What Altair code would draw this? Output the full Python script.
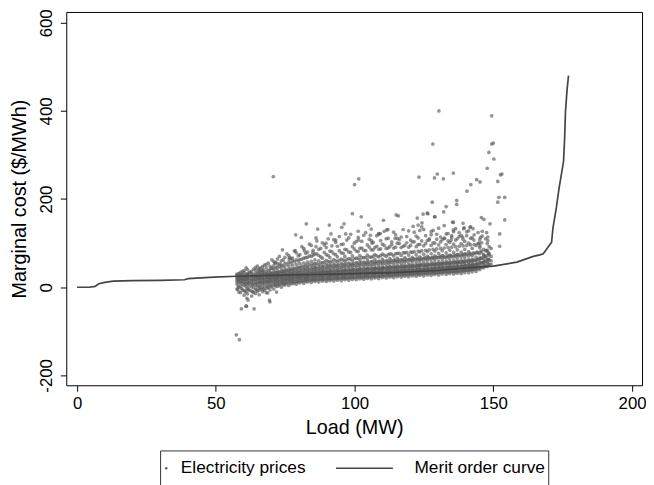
import altair as alt
import pandas as pd

SERIES = ["Electricity prices", "Merit order curve"]
x_ticks = [0, 50, 100, 150, 200]
y_ticks = [-200, 0, 200, 400, 600]

# Merit order curve (load MW, marginal cost $/MWh)
merit_load = [0, 4.3, 6.5, 7.8, 10, 13, 20, 30, 38.7, 40, 49.3, 57.6, 70, 85, 100,
              114.6, 130, 144, 150, 158.5, 164.4, 166.8, 168, 171, 171.5, 172.7,
              173.7, 174.5, 175.3, 175.7, 176, 176.6, 177.1]
merit_cost = [0, 0, 2, 8, 11, 14, 15, 15.5, 17, 19.5, 23, 25, 27, 29, 31,
              33, 38, 45.6, 48, 57, 70, 73.5, 76, 102, 135, 180,
              225, 255, 285, 338, 398, 450, 480]

# Dense cloud of observed prices, read column by column (load, prices)
cloud_load = [57.6, 58.9, 60.2, 61.4, 62.9, 64.3, 65.6, 66.8, 68.2, 69.5, 70.9, 72.2,
              73.6, 74.9, 76.3, 77.6, 79.0, 80.3, 81.7, 83.0, 84.4, 85.7, 87.1, 88.4,
              89.8, 91.1, 92.5, 93.8, 95.2, 96.5, 97.9, 99.2, 100.6, 101.9, 103.3, 104.6,
              106.0, 107.3, 108.7, 110.0, 111.4, 112.7, 114.1, 115.4, 116.8, 118.1, 119.5,
              120.8, 122.2, 123.5, 124.9, 126.2, 127.6, 128.9, 130.3, 131.6, 133.0, 134.3,
              135.7, 137.0, 138.4, 139.7, 141.1, 142.4, 143.8, 145.1, 146.5, 147.8, 149.2]
cloud_prices = [
    [-4, 8, 14, 19, 23, 27, 30],
    [-12, 2, 10, 16, 21, 25, 29, 34],
    [-18, -8, 4, 12, 18, 23, 27, 33, 38],
    [-15, -3, 6, 13, 19, 24, 28, 31, 40],
    [-20, -9, 1, 9, 15, 21, 26, 30, 36],
    [-14, -4, 5, 12, 18, 23, 27, 32, 39, 45],
    [-17, -6, 3, 11, 17, 22, 26, 30, 35, 42],
    [-10, 0, 8, 14, 20, 24, 28, 33, 38, 47],
    [-12, -2, 7, 13, 19, 23, 27, 31, 36, 44, 52],
    [-6, 4, 11, 17, 21, 25, 29, 34, 40, 48],
    [-4, 6, 12, 18, 22, 26, 30, 35, 41, 49, 58],
    [2, 9, 15, 20, 24, 28, 32, 38, 45, 53, 64],
    [0, 8, 14, 19, 23, 27, 31, 36, 43, 50, 60],
    [5, 11, 17, 21, 25, 29, 33, 39, 46, 55, 68],
    [4, 12, 18, 22, 26, 30, 35, 41, 48, 57, 72],
    [8, 14, 19, 23, 27, 31, 36, 42, 50, 60, 66],
    [7, 13, 19, 24, 28, 32, 37, 44, 52, 62, 78],
    [10, 16, 21, 25, 29, 33, 38, 45, 54, 63, 74],
    [9, 15, 20, 25, 29, 34, 40, 47, 55, 66, 88],
    [12, 18, 22, 26, 30, 35, 41, 48, 57, 68, 80],
    [11, 17, 22, 27, 31, 36, 42, 50, 59, 70, 95],
    [13, 19, 23, 27, 31, 35, 40, 46, 53, 62, 75],
    [12, 18, 23, 28, 32, 37, 43, 51, 60, 72, 86],
    [14, 20, 24, 28, 32, 36, 41, 48, 56, 66, 101],
    [13, 19, 24, 29, 33, 38, 44, 52, 61, 74, 90],
    [15, 21, 25, 29, 33, 37, 42, 49, 57, 67, 82],
    [14, 20, 25, 30, 34, 39, 45, 53, 63, 76, 108],
    [16, 22, 26, 30, 34, 38, 43, 50, 58, 69, 93],
    [15, 21, 26, 31, 35, 40, 46, 54, 64, 78, 97],
    [17, 23, 27, 31, 35, 39, 44, 51, 59, 70, 86],
    [16, 22, 27, 32, 36, 41, 47, 55, 65, 80, 112],
    [18, 24, 28, 32, 36, 40, 45, 52, 60, 71, 92],
    [17, 23, 28, 33, 37, 42, 48, 56, 66, 82, 104],
    [19, 25, 29, 33, 37, 41, 46, 53, 61, 72, 88],
    [18, 24, 29, 34, 38, 43, 49, 57, 67, 84, 118],
    [20, 26, 30, 34, 38, 42, 47, 54, 62, 73, 96],
    [19, 25, 30, 35, 39, 44, 50, 58, 68, 85, 106],
    [21, 27, 31, 35, 39, 43, 48, 55, 63, 74, 90],
    [20, 26, 31, 36, 40, 45, 51, 59, 69, 86, 122],
    [22, 28, 32, 36, 40, 44, 49, 56, 64, 75, 98],
    [21, 27, 32, 37, 41, 46, 52, 60, 70, 88, 110],
    [23, 29, 33, 37, 41, 45, 50, 57, 65, 76, 92],
    [22, 28, 33, 38, 42, 47, 53, 61, 71, 89, 125],
    [24, 30, 34, 38, 42, 46, 51, 58, 66, 77, 100],
    [23, 29, 34, 39, 43, 48, 54, 62, 72, 90, 114],
    [25, 31, 35, 39, 43, 47, 52, 59, 67, 78, 95],
    [24, 30, 35, 40, 44, 49, 55, 63, 73, 91, 128],
    [26, 32, 36, 40, 44, 48, 53, 60, 68, 79, 103],
    [25, 31, 36, 41, 45, 50, 56, 64, 74, 92, 116],
    [27, 33, 37, 41, 45, 49, 54, 61, 69, 80, 97],
    [26, 32, 37, 42, 46, 51, 57, 65, 75, 94, 131],
    [28, 34, 38, 42, 46, 50, 55, 62, 70, 81, 106],
    [27, 33, 38, 43, 47, 52, 58, 66, 76, 95, 119],
    [29, 35, 39, 43, 47, 51, 56, 63, 71, 82, 100],
    [28, 34, 39, 44, 48, 53, 59, 67, 77, 96, 134],
    [30, 36, 40, 44, 48, 52, 57, 64, 72, 83, 108],
    [29, 35, 40, 45, 49, 54, 60, 68, 78, 97, 121],
    [31, 37, 41, 45, 49, 53, 58, 65, 73, 84, 102],
    [30, 36, 41, 46, 50, 55, 61, 69, 79, 98, 126],
    [32, 38, 42, 46, 50, 54, 59, 66, 74, 85, 110],
    [31, 37, 42, 47, 51, 56, 62, 70, 80, 99, 118],
    [33, 39, 43, 47, 51, 55, 60, 67, 75, 86, 104],
    [33, 39, 44, 48, 52, 57, 63, 71, 81, 100, 128],
    [35, 41, 45, 49, 53, 58, 64, 72, 88, 112],
    [36, 42, 46, 50, 55, 61, 68, 78, 95],
    [40, 46, 52, 58, 66, 76, 90, 108],
    [44, 50, 57, 65, 74, 86],
    [47, 55, 63, 72, 84, 99],
    [52, 60, 70, 88],
]

# Second pass of the cloud, read between the columns above
cloud2_load = [58.3, 59.6, 60.9, 62.1, 63.6, 65.0, 66.2, 67.5, 68.9, 70.2, 71.6, 72.9,
               74.3, 75.6, 77.0, 78.3, 79.7, 81.0, 82.4, 83.7, 85.1, 86.4, 87.8, 89.1,
               90.5, 91.8, 93.2, 94.5, 95.9, 97.2, 98.6, 99.9, 101.3, 102.6, 104.0, 105.3,
               106.7, 108.0, 109.4, 110.7, 112.1, 113.4, 114.8, 116.1, 117.5, 118.8, 120.2,
               121.5, 122.9, 124.2, 125.6, 126.9, 128.3, 129.6, 131.0, 132.3, 133.7, 135.0,
               136.4, 137.7, 139.1, 140.4, 141.8, 143.1, 144.5, 145.8, 147.2, 148.5]
cloud2_prices = [
    [0, 11, 18, 24, 31],
    [-6, 7, 15, 22, 28, 36],
    [-11, 1, 9, 17, 22, 29, 44],
    [-7, 3, 11, 17, 25, 34],
    [-12, -1, 8, 16, 24, 29, 41],
    [-9, 2, 10, 19, 25, 33, 48],
    [-4, 5, 13, 21, 27, 36, 44],
    [-7, 3, 12, 18, 26, 34, 50],
    [-1, 8, 15, 22, 29, 38, 55],
    [1, 10, 17, 24, 32, 43, 62],
    [3, 11, 19, 26, 33, 44, 56],
    [5, 13, 21, 27, 35, 47, 70],
    [6, 14, 22, 29, 37, 49, 62],
    [8, 16, 24, 30, 39, 52, 76],
    [9, 17, 25, 32, 41, 55, 65],
    [10, 18, 26, 34, 43, 58, 82],
    [12, 20, 27, 35, 46, 60, 71],
    [13, 21, 28, 37, 48, 64, 92],
    [14, 22, 29, 38, 50, 67, 77],
    [15, 23, 30, 39, 52, 71, 98],
    [16, 24, 31, 40, 53, 73, 84],
    [16, 24, 32, 41, 54, 76, 105],
    [17, 25, 33, 42, 55, 69, 88],
    [17, 26, 34, 43, 57, 79, 96],
    [18, 26, 34, 44, 58, 72, 110],
    [18, 27, 35, 45, 59, 81, 94],
    [19, 27, 35, 46, 60, 74, 102],
    [19, 28, 36, 46, 61, 83, 115],
    [20, 28, 36, 47, 62, 77, 98],
    [20, 29, 37, 48, 63, 85, 107],
    [21, 29, 38, 49, 64, 79, 120],
    [21, 30, 38, 49, 65, 87, 100],
    [22, 30, 39, 50, 66, 81, 113],
    [22, 31, 39, 51, 67, 89, 104],
    [23, 31, 40, 52, 68, 83, 124],
    [23, 32, 41, 52, 69, 91, 109],
    [24, 32, 41, 53, 70, 85, 102],
    [24, 33, 42, 54, 71, 93, 117],
    [25, 33, 42, 55, 72, 87, 106],
    [25, 34, 43, 55, 73, 95, 127],
    [26, 34, 44, 56, 74, 89, 111],
    [26, 35, 44, 57, 75, 97, 103],
    [27, 35, 45, 58, 76, 91, 119],
    [27, 36, 46, 58, 77, 99, 108],
    [28, 36, 46, 59, 78, 93, 131],
    [28, 37, 47, 60, 79, 101, 115],
    [29, 37, 48, 61, 80, 95, 107],
    [29, 38, 48, 62, 81, 103, 125],
    [30, 38, 49, 62, 82, 97, 112],
    [30, 39, 50, 63, 83, 105, 137],
    [31, 40, 50, 64, 84, 99, 117],
    [31, 40, 51, 65, 85, 107, 110],
    [32, 41, 52, 66, 86, 101, 129],
    [32, 42, 53, 67, 87, 109, 120],
    [33, 42, 53, 68, 88, 103, 114],
    [34, 43, 54, 68, 89, 111, 140],
    [34, 44, 55, 69, 90, 105, 122],
    [35, 45, 56, 70, 91, 113, 117],
    [35, 45, 57, 71, 92, 107, 133],
    [36, 46, 57, 72, 93, 115, 124],
    [37, 47, 58, 73, 94, 109, 145],
    [38, 48, 59, 74, 95, 117, 126],
    [39, 49, 60, 75, 96, 111, 137],
    [40, 50, 61, 76, 97, 119],
    [42, 52, 63, 78, 99, 124],
    [45, 55, 66, 80, 101],
    [48, 58, 69, 83, 110],
    [51, 62, 74, 92],
]

# Third pass: the dark core hugging the merit order curve
cloud3_load = [58.0, 59.3, 60.6, 61.8, 63.3, 64.7, 65.9, 67.2, 68.6, 69.9, 71.3, 72.6,
               74.0, 75.3, 76.7, 78.0, 79.4, 80.7, 82.1, 83.4, 84.8, 86.1, 87.5, 88.8,
               90.2, 91.5, 92.9, 94.2, 95.6, 96.9, 98.3, 99.6, 101.0, 102.3, 103.7, 105.0,
               106.4, 107.7, 109.1, 110.4, 111.8, 113.1, 114.5, 115.8, 117.2, 118.5, 119.9,
               121.2, 122.6, 123.9, 125.3, 126.6, 128.0, 129.3, 130.7, 132.0, 133.4, 134.7,
               136.1, 137.4, 138.8, 140.1, 141.5, 142.8, 144.2, 145.5, 146.9, 148.2]
cloud3_prices = [
    [3, 16, 22, 28], [-3, 12, 20, 26], [-8, 8, 17, 25], [-5, 10, 19, 27],
    [-10, 6, 16, 24], [-6, 9, 18, 26], [-2, 11, 20, 28], [-4, 10, 19, 29],
    [1, 13, 21, 30], [3, 14, 22, 31], [5, 15, 23, 32], [7, 16, 25, 33],
    [9, 17, 26, 35], [10, 18, 27, 36], [12, 20, 28, 37], [13, 21, 29, 39],
    [14, 22, 30, 40], [15, 23, 31, 42], [16, 24, 32, 43], [17, 25, 33, 44],
    [18, 26, 34, 45], [18, 26, 35, 46], [19, 27, 35, 47], [19, 27, 36, 48],
    [20, 28, 36, 49], [20, 28, 37, 50], [21, 29, 37, 50], [21, 29, 38, 51],
    [22, 30, 38, 52], [22, 30, 39, 53], [23, 31, 39, 53], [23, 31, 40, 54],
    [24, 32, 40, 55], [24, 32, 41, 56], [25, 33, 41, 56], [25, 33, 42, 57],
    [26, 34, 42, 58], [26, 34, 43, 58], [27, 35, 43, 59], [27, 35, 44, 60],
    [28, 36, 44, 60], [28, 36, 45, 61], [29, 37, 45, 62], [29, 37, 46, 62],
    [30, 38, 47, 63], [30, 38, 47, 64], [31, 39, 48, 64], [31, 39, 48, 65],
    [32, 40, 49, 66], [32, 40, 50, 66], [33, 41, 50, 67], [33, 42, 51, 68],
    [34, 42, 52, 68], [34, 43, 52, 69], [35, 44, 53, 70], [35, 44, 54, 71],
    [36, 45, 55, 71], [36, 46, 55, 72], [37, 46, 56, 73], [37, 47, 57, 74],
    [38, 48, 58, 75], [39, 49, 59, 76], [40, 50, 60, 77], [41, 51, 61, 78],
    [43, 53, 63, 80], [46, 56, 66, 82], [49, 59, 70], [53, 64, 78],
]

# Scattered individual prices (load, price)
outlier_load = [130.4, 149.4, 70.7, 128.2, 149.4, 150.0, 148.4, 150.2, 147.8, 101.5,
                100.0, 123.2, 128.8, 129.8, 132.0, 135.6, 141.9, 144.0, 145.2, 140.5,
                152.6, 153.1, 151.6, 152.0, 154.1, 151.6, 154.1, 152.3, 152.3, 128.0,
                136.8, 136.8, 133.0, 132.1, 128.8, 126.2, 124.7, 122.6, 115.0, 115.8,
                110.4, 99.2, 102.4, 82.6, 78.8, 80.8, 86.7, 90.9, 96.2, 95.4,
                105.1, 106.0, 111.6, 74.0, 71.3, 139.3, 141.6, 135.6, 135.6, 145.7,
                146.6, 148.8, 146.0, 147.6, 145.4, 148.0, 145.2, 147.6, 146.6, 148.1,
                146.4, 57.4, 58.5, 59.2, 60.9, 63.8, 57.9, 58.3, 61.2, 61.6,
                69.3, 69.5, 68.7, 71.9, 61.0, 96.8, 101.3, 91.5, 86.1, 76.4,
                78.6, 81.9, 84.9, 62.4, 65.4, 67.1, 70.1, 73.1, 126.4, 129.0,
                105.7, 108.7, 109.3, 112.0, 114.6, 115.5, 121.1, 122.9, 124.3, 123.5,
                127.6, 132.4, 134.8, 135.3, 139.5, 142.7, 138.9, 143.0, 146.0, 148.0,
                144.8, 148.4, 86.1, 89.7, 93.2, 101.5, 106.3, 76.6]
outlier_price = [400, 389, 251, 325, 325, 327, 306, 291, 270, 246,
                 233, 250, 248, 257, 246, 259, 233, 244, 239, 218,
                 255, 257, 240, 204, 204, 193, 153, 121, 93, 193,
                 197, 188, 183, 171, 160, 168, 166, 157, 164, 162,
                 152, 167, 160, 144, 119, 113, 132, 141, 144, 136,
                 141, 132, 130, 85, 55, 133, 136, 147, 130, 158,
                 154, 144, 127, 124, 113, 106, 94, 83, 72, 61,
                 57, -108, -119, -49, -43, -49, -5, -11, -25, -29,
                 -29, -33, -13, -11, -43, 121, 127, 121, 112, 64,
                 83, 83, 79, 34, 40, 40, 44, 53, 167, 160,
                 118, 120, 122, 131, 111, 111, 138, 141, 146, 129,
                 126, 111, 107, 148, 135, 133, 114, 107, 116, 114,
                 100, 77, 92, 100, 107, 107, 100, 68]

rows = []
for loads, prices in ((cloud_load, cloud_prices), (cloud2_load, cloud2_prices),
                      (cloud3_load, cloud3_prices)):
    for ld, ps in zip(loads, prices):
        for p in ps:
            rows.append({"load": ld, "price": p, "series": SERIES[0]})
for ld, p in zip(outlier_load, outlier_price):
    rows.append({"load": ld, "price": p, "series": SERIES[0]})
prices_df = pd.DataFrame(rows)

merit_df = pd.DataFrame({
    "load": merit_load,
    "price": merit_cost,
    "series": SERIES[1],
    "order": list(range(len(merit_load))),
})

FONT = "Liberation Sans"
is_line = "datum.value === 'Merit order curve'"

legend = alt.Legend(
    title=None,
    orient="none",
    legendX=95,
    legendY=444,
    direction="horizontal",
    strokeColor="#333333",
    fillColor="#ffffff",
    padding=3,
    columnPadding=30,
    clipHeight=30,
    labelFont=FONT,
    labelFontSize=17.5,
    labelColor="#000000",
    labelOffset={"expr": f"{is_line} ? 42 : 6"},
    symbolOffset={"expr": f"{is_line} ? 20 : -5.5"},
    symbolType={"expr": f"{is_line} ? 'stroke' : 'circle'"},
    symbolSize={"expr": f"{is_line} ? 3364 : 6"},
    symbolStrokeColor={"expr": f"{is_line} ? '#444444' : '#999999'"},
    symbolStrokeWidth={"expr": f"{is_line} ? 1.5 : 0"},
    symbolFillColor="#999999",
    symbolOpacity=1,
)

color = alt.Color(
    "series:N",
    scale=alt.Scale(domain=SERIES, range=["#5a5a5a", "#444444"]),
    legend=legend,
)

x_enc = alt.X(
    "load:Q",
    scale=alt.Scale(domain=[-3.9, 203.6], nice=False, zero=False),
    axis=alt.Axis(values=x_ticks, title="Load (MW)", labelPadding=5,
                  titlePadding=6, labelFlush=False),
)
y_enc = alt.Y(
    "price:Q",
    scale=alt.Scale(domain=[-222.4, 624.6], nice=False, zero=False),
    axis=alt.Axis(values=y_ticks, title="Marginal cost ($/MWh)", labelAngle=270,
                  labelAlign="center", labelBaseline="alphabetic", labelPadding=9,
                  titlePadding=8, labelFlush=False,
                  labelExpr="toString(datum.value)"),
)

points = alt.Chart(prices_df).mark_circle(size=14, opacity=0.65).encode(
    x=x_enc, y=y_enc, color=color
)
line = alt.Chart(merit_df).mark_line(strokeWidth=1.7).encode(
    x=x_enc, y=y_enc, color=color, order="order:Q"
)

chart = alt.layer(points, line).properties(
    width=583,
    height=378,
    autosize=alt.AutoSizeParams(type="none"),
    padding={"left": 59, "top": 1, "right": 4, "bottom": 100},
    background="#ffffff",
).configure_view(
    stroke="#000000", strokeWidth=1
).configure_axis(
    domain=False, grid=False, tickColor="#000000", tickSize=6, tickWidth=1,
    labelFont=FONT, labelFontSize=17, labelColor="#000000",
    titleFont=FONT, titleFontSize=20, titleFontWeight="normal", titleColor="#000000",
)

chart.save("out.html", embed_options={"renderer": "svg", "actions": False})
